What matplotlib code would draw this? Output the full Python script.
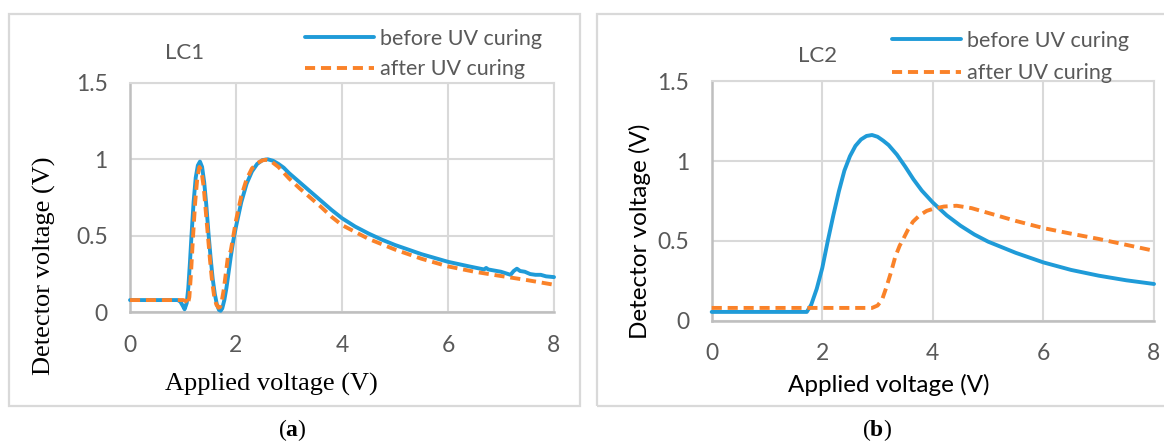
import matplotlib
matplotlib.use("Agg")
import matplotlib.pyplot as plt
from matplotlib.patches import Rectangle

# ---------------- data ----------------
a_before_x = [0, 0.5, 0.9, 0.95, 1.0, 1.03, 1.07, 1.10, 1.13, 1.16, 1.20, 1.24, 1.28, 1.32, 1.36,
              1.40, 1.44, 1.48, 1.52, 1.56, 1.60, 1.64, 1.68, 1.71, 1.74, 1.78, 1.82, 1.86, 1.90,
              1.95, 2.0, 2.1, 2.2, 2.3, 2.4, 2.5, 2.6, 2.7, 2.8, 2.9, 3.0, 3.2, 3.4, 3.6, 3.8, 4.0,
              4.25, 4.5, 4.75, 5.0, 5.5, 6.0, 6.4, 6.68, 6.72, 6.76, 7.0, 7.18, 7.24, 7.30, 7.36,
              7.45, 7.55, 7.65, 7.75, 7.85, 8.0]
a_before_y = [0.08, 0.08, 0.08, 0.07, 0.04, 0.02, 0.06, 0.16, 0.32, 0.50, 0.72, 0.88, 0.96, 0.985, 0.95,
              0.85, 0.70, 0.52, 0.36, 0.22, 0.12, 0.05, 0.015, 0.01, 0.025, 0.08, 0.16, 0.26, 0.36,
              0.47, 0.56, 0.72, 0.84, 0.92, 0.97, 0.995, 1.0, 0.99, 0.97, 0.945, 0.91, 0.85, 0.79, 0.73, 0.67, 0.615,
              0.56, 0.515, 0.475, 0.44, 0.38, 0.33, 0.30, 0.28, 0.29, 0.28, 0.265, 0.245, 0.27, 0.285, 0.27,
              0.265, 0.25, 0.245, 0.245, 0.235, 0.23]

a_after_x = [0, 0.5, 1.0, 1.05, 1.09, 1.12, 1.15, 1.19, 1.23, 1.27, 1.31, 1.35, 1.39, 1.43, 1.47,
             1.51, 1.55, 1.59, 1.63, 1.67, 1.70, 1.73, 1.77, 1.81, 1.85, 1.90, 1.95, 2.0, 2.1, 2.2,
             2.3, 2.4, 2.5, 2.56, 2.65, 2.8, 3.0, 3.2, 3.4, 3.6, 3.8, 4.0, 4.5, 5.0, 5.5, 6.0, 6.5,
             7.0, 7.5, 8.0]
a_after_y = [0.08, 0.08, 0.08, 0.075, 0.05, 0.10, 0.25, 0.50, 0.72, 0.88, 0.95, 0.92, 0.82, 0.66, 0.50,
             0.34, 0.20, 0.10, 0.05, 0.03, 0.035, 0.07, 0.15, 0.26, 0.37, 0.40, 0.50, 0.60, 0.76, 0.87,
             0.94, 0.975, 0.993, 0.997, 0.99, 0.95, 0.875, 0.81, 0.75, 0.69, 0.625, 0.57, 0.48, 0.41, 0.35, 0.30, 0.265,
             0.237, 0.21, 0.18]

b_before_x = [0, 1.0, 1.72, 1.8, 1.9, 2.0, 2.1, 2.2, 2.3, 2.4, 2.5, 2.6, 2.7, 2.8, 2.9, 3.0, 3.1,
              3.2, 3.35, 3.5, 3.65, 3.8, 4.0, 4.25, 4.5, 4.75, 5.0, 5.5, 6.0, 6.5, 7.0, 7.5, 8.0]
b_before_y = [0.055, 0.055, 0.055, 0.10, 0.20, 0.33, 0.50, 0.66, 0.81, 0.94, 1.03, 1.095, 1.135, 1.157, 1.163, 1.152, 1.128,
              1.10, 1.04, 0.965, 0.885, 0.815, 0.74, 0.66, 0.595, 0.54, 0.495, 0.425, 0.365, 0.318, 0.282, 0.253, 0.23]

b_after_x = [0, 1.0, 2.0, 2.9, 3.0, 3.08, 3.16, 3.24, 3.32, 3.40, 3.47, 3.55, 3.64, 3.76, 3.89, 4.0,
             4.2, 4.43, 4.7, 5.0, 5.5, 6.0, 6.5, 7.0, 7.5, 8.0]
b_after_y = [0.08, 0.08, 0.08, 0.08, 0.095, 0.13, 0.21, 0.30, 0.40, 0.47, 0.515, 0.57, 0.62, 0.66, 0.688, 0.70,
             0.715, 0.72, 0.705, 0.675, 0.625, 0.58, 0.545, 0.512, 0.475, 0.438]

x_ticks = [0, 2, 4, 6, 8]
y_ticks = [0, 0.5, 1, 1.5]
y_tick_labels = ["0", "0.5", "1", "1.5"]
series_labels = ["before UV curing", "after UV curing"]
panel_titles = ["LC1", "LC2"]
xlabel = "Applied voltage (V)"
ylabel = "Detector voltage (V)"

# ---------------- style ----------------
W, H = 1164, 443
BLUE = "#1f9bd8"
ORANGE = "#fa8229"
GRID = "#d9d9d9"
AXC = "#bfbfbf"
TXT = "#595959"
SANS = ["Lato", "DejaVu Sans"]
SERIF = ["Liberation Serif", "DejaVu Serif"]
plt.rcParams["mathtext.fontset"] = "custom"
plt.rcParams["mathtext.bf"] = "Liberation Serif:bold"
plt.rcParams["mathtext.rm"] = "Liberation Serif"

fig = plt.figure(figsize=(W / 100, H / 100), dpi=100)

def fx(x):
    return x / W

def fy(y):
    return 1 - y / H

# panel frames
fig.patches.append(Rectangle((fx(9), fy(406)), fx(580) - fx(9), fy(14) - fy(406),
                             transform=fig.transFigure, fill=False, ec=GRID, lw=1.6))
fig.patches.append(Rectangle((fx(597), fy(406)), fx(1175) - fx(597), fy(14) - fy(406),
                             transform=fig.transFigure, fill=False, ec=GRID, lw=1.6))

dash = (0, (2.6, 1.5))

def make_axes(rect_px, xb, yb, xa, ya, title, title_xy, leg_xy, leg_sp, serif_labels, xl_xy, yl_xy, lab_size):
    l, t, r, b = rect_px
    ax = fig.add_axes([fx(l), fy(b), fx(r) - fx(l), fy(t) - fy(b)])
    ax.plot(xb, yb, color=BLUE, lw=2.8, label=series_labels[0], clip_on=False, zorder=3,
            solid_joinstyle="round", solid_capstyle="round")
    ax.plot(xa, ya, color=ORANGE, lw=2.8, ls=dash, label=series_labels[1], clip_on=False, zorder=4)
    ax.set_xlim(0, 8)
    ax.set_ylim(0, 1.5)
    ax.set_xticks(x_ticks)
    ax.set_xticklabels([str(v) for v in x_ticks])
    ax.set_yticks(y_ticks)
    ax.set_yticklabels(y_tick_labels)
    ax.grid(True, color=GRID, lw=1.5, zorder=0)
    ax.set_axisbelow(True)
    for s in ["top", "right"]:
        ax.spines[s].set_color(GRID)
        ax.spines[s].set_linewidth(1.5)
    for s in ["left", "bottom"]:
        ax.spines[s].set_color(AXC)
        ax.spines[s].set_linewidth(1.8)
    ax.tick_params(length=0, labelsize=16.5, labelcolor=TXT, pad=16)
    for lab in ax.get_xticklabels() + ax.get_yticklabels():
        lab.set_family(SANS)
    fig.text(fx(title_xy[0]), fy(title_xy[1]), title, ha="center", va="center",
             fontsize=16, color=TXT, family=SANS)
    leg = ax.legend(loc="upper left", bbox_to_anchor=(fx(leg_xy[0]), fy(leg_xy[1])),
                    bbox_transform=fig.transFigure, frameon=False, fontsize=15.5,
                    handlelength=3.2, handletextpad=0.3, labelspacing=leg_sp,
                    borderpad=0, borderaxespad=0)
    for txt in leg.get_texts():
        txt.set_color(TXT)
        txt.set_family(SANS)
    fam = SERIF if serif_labels else SANS
    fig.text(fx(xl_xy[0]), fy(xl_xy[1]), xlabel, ha="center", va="center",
             fontsize=lab_size, color="black", family=fam)
    fig.text(fx(yl_xy[0]), fy(yl_xy[1]), ylabel, ha="center", va="center", rotation=90,
             fontsize=lab_size, color="black", family=fam)
    return ax

make_axes((130, 82.8, 554, 312.3), a_before_x, a_before_y, a_after_x, a_after_y,
          panel_titles[0], (185, 53), (305, 29), 0.48, True, (271, 384), (44, 266), 19)
make_axes((711.7, 81.2, 1154, 320.7), b_before_x, b_before_y, b_after_x, b_after_y,
          panel_titles[1], (818, 56), (892, 31), 0.58, False, (889, 385), (640, 231), 17.5)

fig.text(fx(292), fy(430), r"($\mathbf{a}$)", ha="center", va="center", fontsize=17, family=SERIF)
fig.text(fx(877), fy(430), r"($\mathbf{b}$)", ha="center", va="center", fontsize=17, family=SERIF)

fig.savefig("out.png", dpi=100)
